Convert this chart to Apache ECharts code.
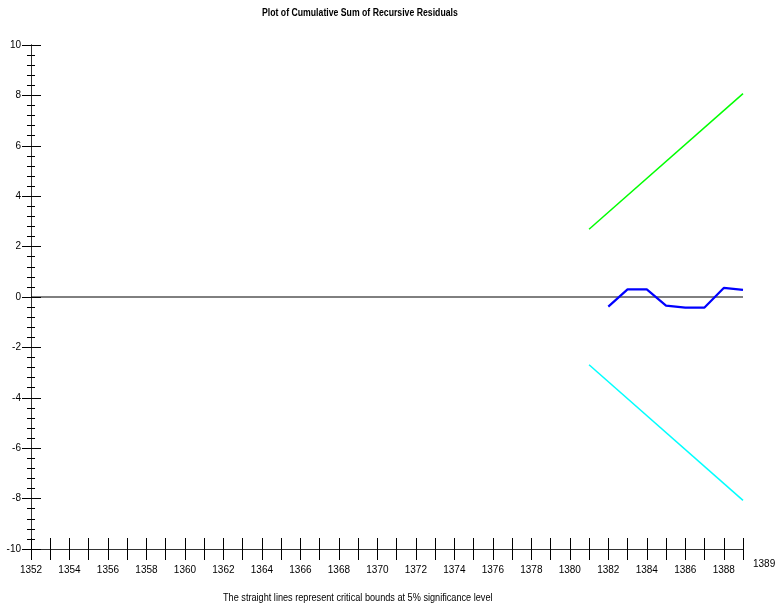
<!DOCTYPE html>
<html>
<head>
<meta charset="utf-8">
<script src="https://cdn.jsdelivr.net/npm/echarts@6/dist/echarts.min.js"></script>
<style>html,body{margin:0;padding:0;background:#fff;}#c{width:775px;height:607px;}</style>
</head>
<body>
<div id="c"></div>
<script>
var titleText = 'Plot of Cumulative Sum of Recursive Residuals';
var footText = 'The straight lines represent critical bounds at 5% significance level';
var xMin = 1352, xMax = 1389;
var yMin = -10, yMax = 10;
var boundYears = [1381, 1389];
var upperBound = [2.69, 8.07];
var lowerBound = [-2.69, -8.07];
var cusumYears = [1382, 1383, 1384, 1385, 1386, 1387, 1388, 1389];
var cusumValues = [-0.38, 0.30, 0.30, -0.34, -0.42, -0.42, 0.36, 0.28];
var zeroYears = [1352, 1389];
var zeroValues = [0, 0];

var FONT = "'Liberation Sans', Arial, sans-serif";
function pairs(xs, ys) { return xs.map(function (x, i) { return [x, ys[i]]; }); }

var chart = echarts.init(document.getElementById('c'), null, { renderer: 'canvas' });
var baseX = { type: 'value', min: xMin, max: xMax, interval: 1, splitLine: { show: false },
  axisLine: { onZero: false, lineStyle: { color: '#333', width: 1 } } };
var baseY = { type: 'value', min: yMin, max: yMax, interval: 2, splitLine: { show: false },
  axisLine: { onZero: false, lineStyle: { color: '#333', width: 1 } },
  minorTick: { show: true, splitNumber: 5, length: 4, lineStyle: { color: '#000', width: 1 } } };

chart.setOption({
  animation: false,
  backgroundColor: '#fff',
  graphic: [
    { type: 'text', x: 262, y: 8, scaleX: 0.87, silent: true,
      style: { text: titleText, font: "bold 10px 'Liberation Sans', Arial, sans-serif", fill: '#000' } },
    { type: 'text', x: 223, y: 593, scaleX: 0.915, silent: true,
      style: { text: footText, font: "10px 'Liberation Sans', Arial, sans-serif", fill: '#000' } }
  ],
  grid: { left: 31, right: 32, top: 45, bottom: 58, containLabel: false, outerBoundsMode: 'none' },
  xAxis: [
    Object.assign({}, baseX, {
      position: 'bottom',
      axisTick: { show: true, inside: false, length: 11, lineStyle: { color: '#000' } },
      axisLabel: { show: true, margin: 16, fontFamily: FONT, fontSize: 10, color: '#000',
        showMaxLabel: true,
        formatter: function (v) { return (v % 2 === 0 && v < xMax) ? String(v) : ''; } }
    }),
    Object.assign({}, baseX, {
      position: 'bottom',
      axisTick: { show: true, inside: true, length: 11, lineStyle: { color: '#000' } },
      axisLabel: { show: true, margin: 10, align: 'left', padding: [0, 0, 0, 10], fontFamily: FONT, fontSize: 10, color: '#000',
        showMaxLabel: true,
        formatter: function (v) { return v === xMax ? String(v) : ''; } }
    })
  ],
  yAxis: [
    Object.assign({}, baseY, {
      position: 'left',
      axisTick: { show: true, inside: false, length: 9, lineStyle: { color: '#000' } },
      axisLabel: { show: true, margin: 10, fontFamily: FONT, fontSize: 10, color: '#000' }
    }),
    Object.assign({}, baseY, {
      position: 'left',
      axisTick: { show: true, inside: true, length: 10, lineStyle: { color: '#000' } },
      axisLabel: { show: false }
    })
  ],
  series: [
    { type: 'line', data: pairs(zeroYears, zeroValues), symbol: 'none', lineStyle: { color: '#000', width: 1 }, z: 1 },
    { type: 'line', data: pairs(boundYears, upperBound), symbol: 'none', lineStyle: { color: '#00ff00', width: 1.5 } },
    { type: 'line', data: pairs(boundYears, lowerBound), symbol: 'none', lineStyle: { color: '#00ffff', width: 1.5 } },
    { type: 'line', data: pairs(cusumYears, cusumValues), symbol: 'none', lineStyle: { color: '#0000ff', width: 2.2 } }
  ]
});
</script>
</body>
</html>
